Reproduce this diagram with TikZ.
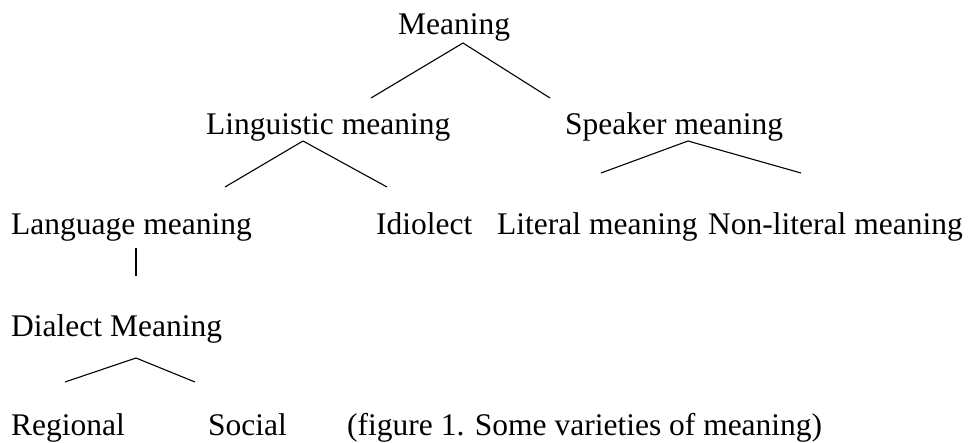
\documentclass[tikz,border=0pt]{standalone}
\usepackage{fontspec}
\setmainfont{Liberation Serif}
\begin{document}
\begin{tikzpicture}[x=1pt,y=1pt,
  lbl/.style={anchor=base west,inner sep=0pt,font=\fontsize{31.5}{36}\selectfont},
  branch/.style={line width=1.1pt,line cap=butt,line join=miter}]
\useasboundingbox (0,0) rectangle (971,442);
% texts (y = 442 - pixel y of baseline)
\node[lbl] (mean) at (398,407) {Meaning};
\node[lbl] (ling) at (206,307) {Linguistic meaning};
\node[lbl] (spk) at (565,307) {Speaker meaning};
\node[lbl] (lang) at (11,207) {Language meaning};
\node[lbl] (idio) at (376,207) {Idiolect};
\node[lbl] (lit) at (497,207) {Literal meaning};
\node[lbl] (nonlit) at (708,207) {Non-literal meaning};
\node[lbl] (dial) at (11,106) {Dialect Meaning};
\node[lbl] (reg) at (11,7) {Regional};
\node[lbl] (soc) at (208,7) {Social};
\node[lbl] (cap) at (347,7) {(figure 1. Some varieties of meaning)};
% branch points
\coordinate (m0) at (463,399);
\coordinate (m1) at (371,344);
\coordinate (m2) at (550,344);
\coordinate (l0) at (303,301);
\coordinate (l1) at (225,255);
\coordinate (l2) at (387,255);
\coordinate (s0) at (688,301);
\coordinate (s1) at (601,269);
\coordinate (s2) at (801,269);
\coordinate (v0) at (136,194);
\coordinate (v1) at (136,166);
\coordinate (d0) at (136,84);
\coordinate (d1) at (65,60);
\coordinate (d2) at (195,60);
\draw[branch] (m1) -- (m0) -- (m2);
\draw[branch] (l1) -- (l0) -- (l2);
\draw[branch] (s1) -- (s0) -- (s2);
\draw[branch] (v0) -- (v1);
\draw[branch] (d1) -- (d0) -- (d2);
\end{tikzpicture}
\end{document}
